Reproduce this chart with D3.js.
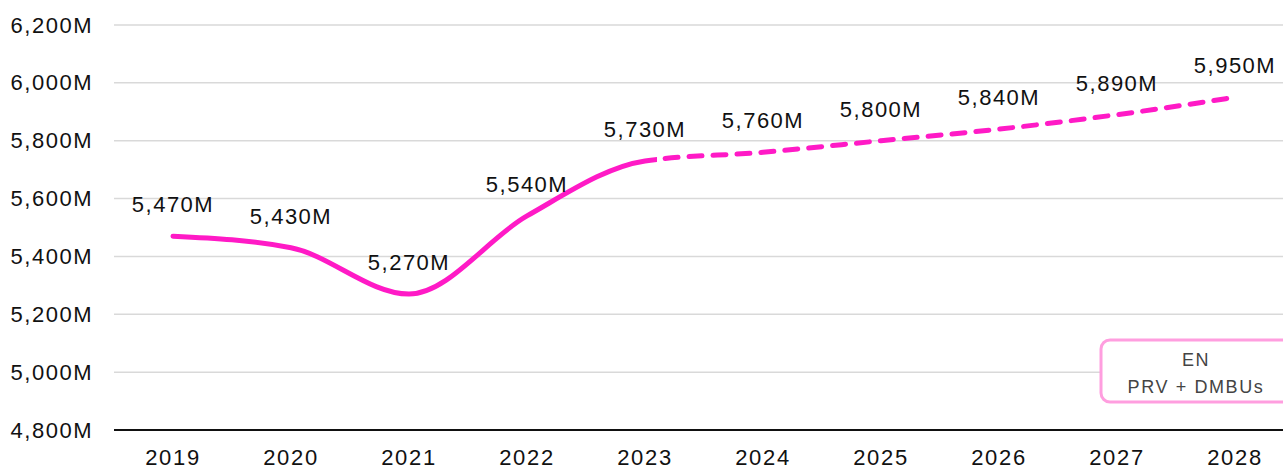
<!DOCTYPE html>
<html>
<head>
<meta charset="utf-8">
<script src="https://cdn.jsdelivr.net/npm/d3@7"></script>
<style>
  html, body { margin: 0; padding: 0; background: #fff; overflow: hidden; }
  svg { display: block; }
  text { font-family: "Liberation Sans", Arial, sans-serif; }
</style>
</head>
<body>
<svg id="chart" width="1283" height="468"></svg>
<script>
// Yearly values (millions); actuals through 2023, forecast afterwards
const years = ["2019", "2020", "2021", "2022", "2023", "2024", "2025", "2026", "2027", "2028"];
const values = [5470, 5430, 5270, 5540, 5730, 5760, 5800, 5840, 5890, 5950];
const lastActualYear = "2023";
const yTicks = [4800, 5000, 5200, 5400, 5600, 5800, 6000, 6200];
const legendLines = ["EN", "PRV + DMBUs"];

const W = 1283, H = 468;
const plotLeft = 114, bandRight = 1294, plotTop = 25, plotBottom = 430;

const svg = d3.select("#chart");

const x = d3.scaleBand().domain(years).range([plotLeft, bandRight]).padding(0);
const y = d3.scaleLinear().domain([4800, 6200]).range([plotBottom, plotTop]);
const cx = d => x(d) + x.bandwidth() / 2;

const fmt = v => d3.format(",")(v) + "M";

// Horizontal gridlines
svg.append("g")
  .selectAll("line")
  .data(yTicks.filter(t => t !== 4800))
  .join("line")
  .attr("x1", plotLeft).attr("x2", W)
  .attr("y1", d => y(d)).attr("y2", d => y(d))
  .attr("stroke", "#d9d9d9").attr("stroke-width", 1.5);

// Y axis labels
const yAxis = d3.axisLeft(y).tickValues(yTicks).tickFormat(fmt).tickSize(0).tickPadding(21);
const gy = svg.append("g").attr("transform", `translate(${plotLeft},0)`).call(yAxis);
gy.select(".domain").remove();
gy.selectAll("text")
  .attr("font-size", 22).attr("letter-spacing", 1.5)
  .attr("fill", "#111").attr("font-family", "Liberation Sans, Arial, sans-serif");

// X axis with baseline
const xAxis = d3.axisBottom(x).tickSize(0).tickPadding(19);
const gx = svg.append("g").attr("transform", `translate(0,${plotBottom})`).call(xAxis);
gx.select(".domain").remove();
gx.append("line").attr("x1", plotLeft).attr("x2", W).attr("y1", 0).attr("y2", 0)
  .attr("stroke", "#111").attr("stroke-width", 2);
gx.selectAll("text")
  .attr("font-size", 22).attr("letter-spacing", 1.7)
  .attr("fill", "#111").attr("font-family", "Liberation Sans, Arial, sans-serif");

// Line series: one smooth curve, solid for actuals, dashed for forecast
const pts = years.map((yr, i) => ({ yr, v: values[i] }));
const line = d3.line().x(d => cx(d.yr)).y(d => y(d.v)).curve(d3.curveMonotoneX);
const splitX = cx(lastActualYear) + 12;
const magenta = "#ff1ac6";

const defs = svg.append("defs");
defs.append("clipPath").attr("id", "clipActual")
  .append("rect").attr("x", 0).attr("y", 0).attr("width", splitX).attr("height", H);
defs.append("clipPath").attr("id", "clipForecast")
  .append("rect").attr("x", splitX).attr("y", 0).attr("width", W).attr("height", H);

const solid = svg.append("path")
  .datum(pts)
  .attr("d", line)
  .attr("clip-path", "url(#clipActual)")
  .attr("fill", "none").attr("stroke", magenta).attr("stroke-width", 5)
  .attr("stroke-linecap", "round").attr("stroke-linejoin", "round");

// Length along the curve where the forecast dashes begin
const node = solid.node();
let lo = 0, hi = node.getTotalLength();
for (let k = 0; k < 40; k++) {
  const mid = (lo + hi) / 2;
  if (node.getPointAtLength(mid).x < splitX) lo = mid; else hi = mid;
}
svg.append("path")
  .datum(pts)
  .attr("d", line)
  .attr("clip-path", "url(#clipForecast)")
  .attr("fill", "none").attr("stroke", magenta).attr("stroke-width", 5)
  .attr("stroke-linecap", "round")
  .attr("stroke-dasharray", "13 11")
  .attr("stroke-dashoffset", -(lo + 8));

// Value labels above each point
svg.append("g")
  .selectAll("text")
  .data(pts)
  .join("text")
  .attr("x", d => cx(d.yr))
  .attr("y", d => y(d.v) - 24)
  .attr("text-anchor", "middle")
  .attr("font-size", 22).attr("letter-spacing", 1.5)
  .attr("fill", "#111")
  .text(d => fmt(d.v));

// Legend badge
const lg = svg.append("g");
lg.append("rect")
  .attr("x", 1101).attr("y", 340).attr("width", 190).attr("height", 62)
  .attr("rx", 9).attr("ry", 9)
  .attr("fill", "#fff").attr("stroke", "#ff9edf").attr("stroke-width", 3);
lg.selectAll("text")
  .data(legendLines)
  .join("text")
  .attr("x", 1196)
  .attr("y", (d, i) => 366 + i * 27)
  .attr("text-anchor", "middle")
  .attr("font-size", 18).attr("letter-spacing", 1.6)
  .attr("fill", "#444")
  .text(d => d);
</script>
</body>
</html>
